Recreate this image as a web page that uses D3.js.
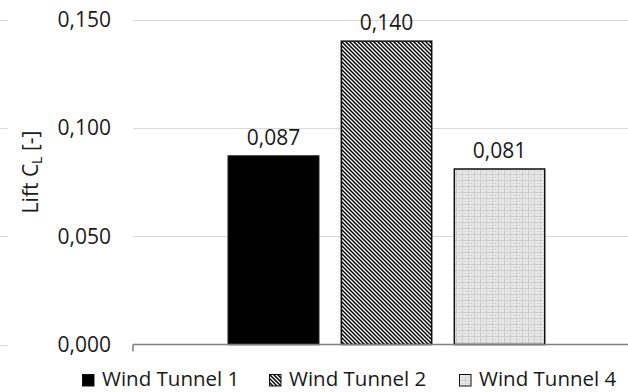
<!DOCTYPE html>
<html><head><meta charset="utf-8">
<script src="https://cdn.jsdelivr.net/npm/d3@7"></script>
<style>
body{margin:0;background:#fff;}
svg{display:block;font-family:"Open Sans",sans-serif;}
</style></head>
<body>
<svg id="chart" width="628" height="392"></svg>
<script>
const seriesNames = ["Wind Tunnel 1", "Wind Tunnel 2", "Wind Tunnel 4"];
const seriesValues = [0.087, 0.140, 0.081];
const valueLabels = ["0,087", "0,140", "0,081"];
const yTicks = [0, 0.05, 0.10, 0.15];
const yTickLabels = ["0,000", "0,050", "0,100", "0,150"];

const svg = d3.select("#chart");
const defs = svg.append("defs");

// diagonal stripes pattern
const p2 = defs.append("pattern").attr("id","diag").attr("patternUnits","userSpaceOnUse")
  .attr("width",4).attr("height",4);
p2.append("rect").attr("width",4).attr("height",4).attr("fill","#fff");
p2.append("path").attr("d","M-1,-1 L5,5 M-1,3 L1,5 M3,-1 L5,1").attr("stroke","#000").attr("stroke-width",1.5);

// light dotted grid pattern
const p3 = defs.append("pattern").attr("id","dots").attr("patternUnits","userSpaceOnUse")
  .attr("width",6).attr("height",6);
p3.append("rect").attr("width",6).attr("height",6).attr("fill","#e8e8e8");
p3.append("rect").attr("x",0).attr("y",0).attr("width",6).attr("height",1).attr("fill","#cdcdcd");
p3.append("rect").attr("x",0).attr("y",0).attr("width",1).attr("height",6).attr("fill","#cdcdcd");
p3.append("rect").attr("x",3).attr("y",3).attr("width",1).attr("height",1).attr("fill","#bdbdbd");

const fills = ["#000", "url(#diag)", "url(#dots)"];

const plotLeft = 133, plotRight = 640, plotTop = 19.5, plotBottom = 344.5;
const y = d3.scaleLinear().domain([0, 0.15]).range([plotBottom, plotTop]);
const x = d3.scaleBand().domain(seriesNames).range([plotLeft, plotRight])
  .paddingInner(0.2).paddingOuter(0.843);

// gridlines
svg.append("g").selectAll("line").data(yTicks.slice(1)).join("line")
  .attr("x1", plotLeft).attr("x2", plotRight)
  .attr("y1", d => Math.round(y(d))+0.5).attr("y2", d => Math.round(y(d))+0.5)
  .attr("stroke","#d9d9d9").attr("stroke-width",1);
// neighbour stubs at left edge
svg.append("g").selectAll("line").data(yTicks).join("line")
  .attr("x1", 0).attr("x2", 8)
  .attr("y1", d => Math.round(y(d))+0.5).attr("y2", d => Math.round(y(d))+0.5)
  .attr("stroke","#d9d9d9").attr("stroke-width",1);

// y tick labels
svg.append("g").selectAll("text").data(yTicks).join("text")
  .attr("x", 111).attr("y", d => y(d)).attr("dy","0.35em")
  .attr("text-anchor","end").attr("font-size",21).attr("fill","#1a1a1a")
  .text((d,i) => yTickLabels[i]);

// bars
svg.append("g").selectAll("rect").data(seriesValues).join("rect")
  .attr("x", (d,i) => x(seriesNames[i]))
  .attr("y", d => y(d))
  .attr("width", x.bandwidth())
  .attr("height", d => y(0) - y(d))
  .attr("fill", (d,i) => fills[i])
  .attr("stroke","#111").attr("stroke-width",1.5);

// value labels
svg.append("g").selectAll("text").data(seriesValues).join("text")
  .attr("x", (d,i) => x(seriesNames[i]) + x.bandwidth()/2)
  .attr("y", d => y(d) - 11)
  .attr("text-anchor","middle").attr("font-size",21).attr("fill","#1a1a1a")
  .text((d,i) => valueLabels[i]);

// x axis line
svg.append("line").attr("x1",plotLeft).attr("x2",plotRight)
  .attr("y1",plotBottom).attr("y2",plotBottom).attr("stroke","#808080").attr("stroke-width",1.5);
svg.append("line").attr("x1",plotLeft).attr("x2",plotLeft)
  .attr("y1",plotBottom).attr("y2",plotBottom+7).attr("stroke","#808080").attr("stroke-width",1.5);

// y axis title
const yt = svg.append("text").attr("transform","translate(38,172) rotate(-90)")
  .attr("text-anchor","middle").attr("font-size",21).attr("fill","#1a1a1a");
yt.append("tspan").text("Lift C");
yt.append("tspan").attr("dy",4).attr("font-size",14).text("L");
yt.append("tspan").attr("dy",-4).text(" [-]");

// legend
const legX = [82, 269, 459];
const leg = svg.append("g").selectAll("g").data(seriesNames).join("g")
  .attr("transform",(d,i) => `translate(${legX[i]},374)`);
leg.append("rect").attr("x",0.5).attr("y",0.5).attr("width",11.5).attr("height",11.5)
  .attr("fill",(d,i)=>fills[i]).attr("stroke","#111").attr("stroke-width",1);
leg.append("text").attr("x",20).attr("y",12)
  .attr("font-size",20.5).attr("fill","#1a1a1a").text(d=>d);
</script>
</body></html>
